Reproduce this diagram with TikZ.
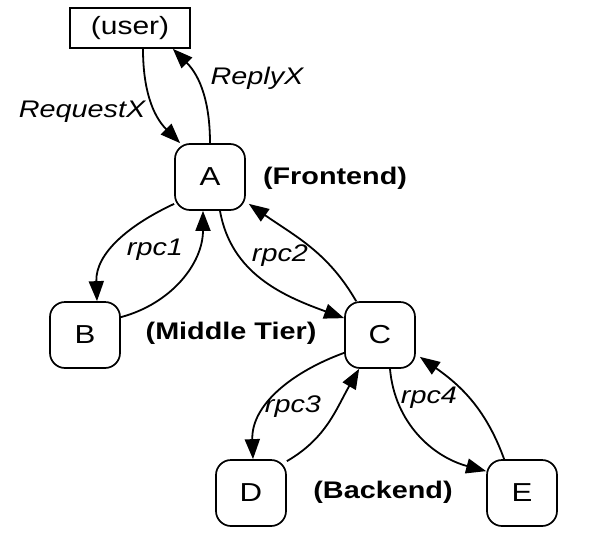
\documentclass[tikz,border=0pt]{standalone}
\usepackage{fontspec}
\setmainfont[FakeStretch=1.2]{Liberation Sans}
\usetikzlibrary{arrows.meta,calc}
\begin{document}
\begin{tikzpicture}[x=1pt,y=1pt,
  every node/.style={font=\fontsize{24}{28}\selectfont},
  srv/.style={draw,line width=1.7pt,rounded corners=15pt,minimum width=70pt,minimum height=66pt,inner sep=0pt,font=\fontsize{26}{30}\selectfont},
  usr/.style={draw,line width=1.7pt,minimum width=120pt,minimum height=40pt,inner sep=0pt,font=\fontsize{25}{30}\selectfont},
  edge/.style={line width=1.8pt,-{Triangle[length=20pt,width=15pt]}},
  lab/.style={font=\fontsize{24}{28}\selectfont\itshape},
  tier/.style={font=\fontsize{24}{28}\selectfont\bfseries}]
\useasboundingbox[fill=white] (0,0) rectangle (603,-544);
\node[usr] (user) at (130,-28) {(user)};
\node[srv] (A) at (210,-177) {A};
\node[srv] (B) at (85,-335) {B};
\node[srv] (C) at (380,-335) {C};
\node[srv] (D) at (251,-493) {D};
\node[srv] (E) at (522,-493) {E};
% user <-> A
\draw[edge] ($(user.south)+(13,0)$) to[out=-90,in=135] ($(A.north west)+(6,0)$);
\draw[edge] (A.north) to[out=90,in=-45] ($(user.south east)+(-18,0)$);
% A <-> B
\draw[edge] ($(A.south west)+(0,7)$) to[out=205,in=92] ($(B.north)+(12,0)$);
\draw[edge] ($(B.north east)+(0,-16)$) to[out=15,in=-90] ($(A.south)+(-7,0)$);
% A <-> C
\draw[edge] ($(A.south)+(10,0)$) to[out=-80,in=160] ($(C.north west)+(0,-17)$);
\draw[edge] ($(C.north west)+(12,0)$) to[out=120,in=-35] ($(A.south east)+(3,7)$);
% C <-> D
\draw[edge] ($(C.south west)+(0,16)$) to[out=200,in=92] ($(D.north)+(2,0)$);
\draw[edge] ($(D.north east)+(0,-2)$) to[out=30,in=-120] ($(C.south west)+(15,0)$);
% C <-> E
\draw[edge] ($(C.south)+(10,0)$) to[out=-85,in=165] ($(E.north west)+(0,-12)$);
\draw[edge] ($(E.north west)+(18,0)$) to[out=110,in=-35] ($(C.south east)+(4,12)$);
% labels
\node[lab] (lreq) at (82,-112) {RequestX};
\node[lab] (lrep) at (257,-78) {ReplyX};
\node[tier] (lfront) at (335,-178) {(Frontend)};
\node[lab] (l1) at (155,-250) {rpc1};
\node[lab] (l2) at (280,-256) {rpc2};
\node[tier] (lmid) at (231,-333) {(Middle Tier)};
\node[lab] (l3) at (293,-407) {rpc3};
\node[lab] (l4) at (429,-398) {rpc4};
\node[tier] (lback) at (383,-492) {(Backend)};
\end{tikzpicture}
\end{document}
